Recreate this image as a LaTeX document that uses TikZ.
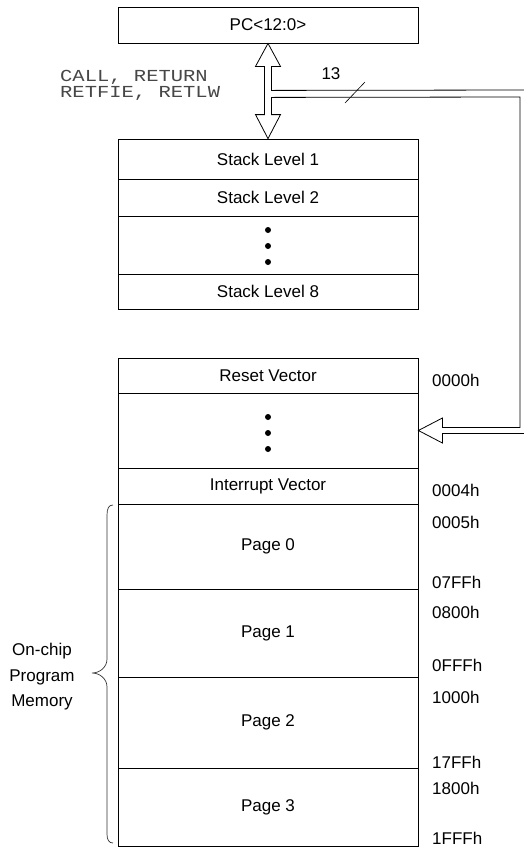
\documentclass[tikz,border=0pt]{standalone}
\usepackage{fontspec}
\setmainfont{Liberation Sans}
\newfontfamily\codefont[FakeStretch=1.22]{Liberation Mono}
\usetikzlibrary{calc}
\begin{document}
\begin{tikzpicture}[x=1pt,y=-1pt,
  cell/.style={draw, line width=0.8pt, minimum width=300pt, inner sep=0pt,
               font=\fontsize{17}{20}\selectfont},
  addr/.style={anchor=base west, inner sep=0pt, font=\fontsize{17}{20}\selectfont},
  opcode/.style={anchor=base west, inner sep=0pt, text=black!72,
                 font=\codefont\fontsize{16.8}{16.8}\selectfont},
  bus/.style={draw, line width=0.8pt, fill=white, line join=miter},
  vdot/.style={fill=black},
  bracket/.style={draw, line width=0.7pt, black!80}]
\useasboundingbox (0,0) rectangle (524,847);

% program counter
\node[cell, minimum height=36pt] (pc) at (268,25) {PC<12:0>};

% hardware stack
\node[cell, minimum height=40pt] (s1) at (268,159)   {Stack Level 1};
\node[cell, minimum height=37pt] (s2) at (268,197.5) {Stack Level 2};
\node[cell, minimum height=58pt] (sd) at (268,245)   {};
\node[cell, minimum height=35pt] (s8) at (268,291.5) {Stack Level 8};
\fill[vdot] (268,230) circle (3pt) (268,246) circle (3pt) (268,262) circle (3pt);

% program memory map
\node[cell, minimum height=35pt] (rv) at (268,375.5) {Reset Vector};
\node[cell, minimum height=75pt] (md) at (268,430.5) {};
\node[cell, minimum height=36pt] (iv) at (268,486)   {Interrupt Vector};
\node[cell, minimum height=85pt] (p0) at (268,546.5) {Page 0};
\node[cell, minimum height=88pt] (p1) at (268,633)   {Page 1};
\node[cell, minimum height=91pt] (p2) at (268,722.5) {Page 2};
\node[cell, minimum height=78pt] (p3) at (268,807)   {Page 3};
\fill[vdot] (268,417) circle (3pt) (268,433) circle (3pt) (268,449) circle (3pt);

% addresses
\node[addr] (a0000) at (432,386) {0000h};
\node[addr] (a0004) at (432,496) {0004h};
\node[addr] (a0005) at (432,528) {0005h};
\node[addr] (a07FF) at (432,588) {07FFh};
\node[addr] (a0800) at (432,618) {0800h};
\node[addr] (a0FFF) at (432,671) {0FFFh};
\node[addr] (a1000) at (432,703) {1000h};
\node[addr] (a17FF) at (432,768) {17FFh};
\node[addr] (a1800) at (432,794) {1800h};
\node[addr] (a1FFF) at (432,844) {1FFFh};

% instructions that move the stack
\node[opcode] (op1) at (60,81) {CALL, RETURN};
\node[opcode] (op2) at (60,97.5) {RETFIE, RETLW};

% PC <-> stack double arrow with the 13-bit bus to program memory
\coordinate (up) at (pc.south);
\coordinate (dn) at (s1.north);
\coordinate (in) at (md.east);
\draw[bus] (up) -- ++(12.5,23) -- ++(-9,0) -- ++(0,24) -- (527,90) -- (527,433.5)
  -- ($(in)+(24,3)$) -- ++(0,9.5) -- (in) -- ++(24,-12.5) -- ++(0,9.5)
  -- (520,427.5) -- (520,97) -- ($(up)+(3.5,54)$) -- ($(dn)+(3.5,-24)$)
  -- ++(9,0) -- (dn) -- ++(-12.5,-24) -- ++(9,0) -- ($(up)+(-3.5,23)$)
  -- ++(-9,0) -- cycle;

% bus width
\node[anchor=base, inner sep=0pt, font=\fontsize{17}{20}\selectfont] (w13) at (331,79) {13};
\coordinate (slashA) at (345,103);
\coordinate (slashB) at (365,82);
\draw[line width=0.6pt] (slashA) -- (slashB);

% on-chip program memory bracket
\draw[bracket] (113,505) .. controls (109,505) and (107,508) .. (107,515)
  -- (107,659) .. controls (107,667) and (100,673) .. (92,673)
  .. controls (100,673) and (107,679) .. (107,687)
  -- (107,834) .. controls (107,840) and (109,843) .. (113,843);
\node[align=center, inner sep=0pt, font=\fontsize{17}{25.5}\selectfont] (mem) at (42,677)
  {On-chip\\Program\\Memory};
\end{tikzpicture}
\end{document}
